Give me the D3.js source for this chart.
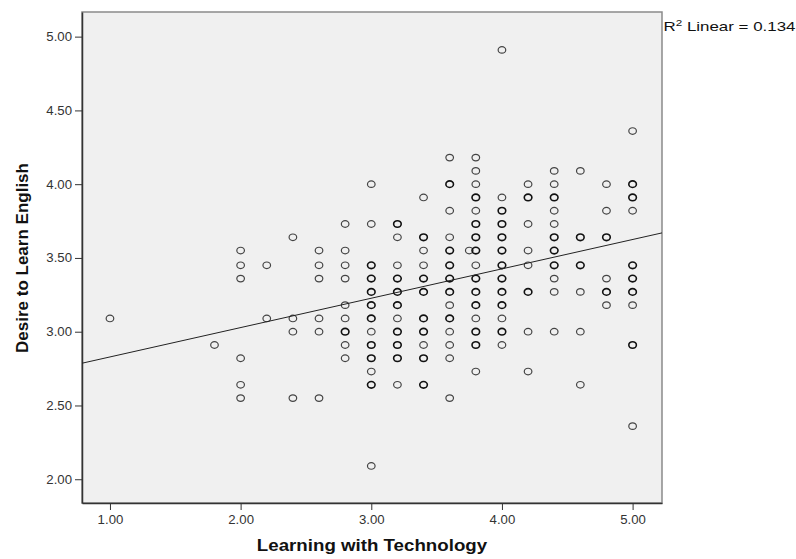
<!DOCTYPE html>
<html>
<head>
<meta charset="utf-8">
<script src="https://cdn.jsdelivr.net/npm/d3@7"></script>
<style>
  body { margin: 0; background: #fff; }
  text { font-family: Arial, "Liberation Sans", sans-serif; }
</style>
</head>
<body>
<div id="chart"></div>
<script>
// Learning with Technology levels (x) and the Desire to Learn English scores seen at each level
const techLevels = [1.0, 1.8, 2.0, 2.2, 2.4, 2.6, 2.8, 3.0, 3.2, 3.4, 3.6, 3.75, 3.8, 4.0, 4.2, 4.4, 4.6, 4.8, 5.0];
const desireScores = [
  [3.09],
  [2.91],
  [3.55, 3.45, 3.36, 2.82, 2.64, 2.55],
  [3.45, 3.09],
  [3.64, 3.09, 3.00, 2.55],
  [3.55, 3.45, 3.36, 3.09, 3.00, 2.55],
  [3.73, 3.55, 3.45, 3.36, 3.18, 3.09, 3.00, 2.91, 2.82],
  [4.00, 3.73, 3.45, 3.36, 3.27, 3.18, 3.09, 3.00, 2.91, 2.82, 2.73, 2.64, 2.09],
  [3.73, 3.64, 3.45, 3.36, 3.27, 3.18, 3.09, 3.00, 2.91, 2.82, 2.64],
  [3.91, 3.64, 3.55, 3.45, 3.36, 3.27, 3.09, 3.00, 2.91, 2.82, 2.64],
  [4.18, 4.00, 3.82, 3.64, 3.55, 3.45, 3.36, 3.27, 3.18, 3.09, 3.00, 2.91, 2.82, 2.55],
  [3.55],
  [4.18, 4.09, 4.00, 3.91, 3.82, 3.73, 3.64, 3.55, 3.45, 3.36, 3.27, 3.18, 3.09, 3.00, 2.91, 2.73],
  [4.91, 3.91, 3.82, 3.73, 3.64, 3.55, 3.45, 3.36, 3.27, 3.18, 3.09, 3.00, 2.91],
  [4.00, 3.91, 3.73, 3.55, 3.45, 3.27, 3.00, 2.73],
  [4.09, 4.00, 3.91, 3.82, 3.73, 3.64, 3.55, 3.45, 3.36, 3.27, 3.00],
  [4.09, 3.64, 3.45, 3.27, 3.00, 2.64],
  [4.00, 3.82, 3.64, 3.36, 3.27, 3.18],
  [4.36, 4.00, 3.91, 3.82, 3.45, 3.36, 3.27, 3.18, 2.91, 2.36]
];
// scores that several respondents share (drawn as darker, overlapping markers)
const sharedScores = [
  [], [], [], [], [], [],
  [3.00],
  [3.45, 3.36, 3.27, 3.18, 3.09, 2.91, 2.82, 2.64],
  [3.73, 3.36, 3.27, 3.18, 3.00, 2.91, 2.82],
  [3.64, 3.36, 3.27, 3.09, 3.00, 2.82, 2.64],
  [4.00, 3.55, 3.45, 3.36, 3.27, 3.09],
  [],
  [3.91, 3.73, 3.64, 3.55, 3.36, 3.27, 3.18, 3.00, 2.91],
  [3.82, 3.73, 3.64, 3.55, 3.45, 3.36, 3.27, 3.18, 3.00],
  [3.91, 3.27],
  [3.91, 3.64, 3.55, 3.45],
  [3.64, 3.45],
  [3.64, 3.27],
  [4.00, 3.91, 3.45, 3.36, 3.27, 2.91]
];
const xTicks = [1, 2, 3, 4, 5];
const yTicks = [2, 2.5, 3, 3.5, 4, 4.5, 5];
// fitted linear line
const fitIntercept = 2.63, fitSlope = 0.199, rSquared = 0.134;

const points = [];
techLevels.forEach((t, i) => {
  desireScores[i].forEach(d => {
    points.push({ tech: t, desire: d, shared: sharedScores[i].includes(d) });
  });
});

const width = 796, height = 559;
const margin = { top: 12, right: 134, bottom: 56, left: 82 };
const stretch = 1.1; // the original picture is a little wider than tall

const svg = d3.select('#chart')
  .append('svg')
  .attr('width', width)
  .attr('height', height);

const xScale = d3.scaleLinear()
  .domain([0.786, 5.225])
  .range([margin.left, width - margin.right]);

const yScale = d3.scaleLinear()
  .domain([1.839, 5.167])
  .range([height - margin.bottom, margin.top]);

// plot background
svg.append('rect')
  .attr('x', margin.left)
  .attr('y', margin.top)
  .attr('width', width - margin.left - margin.right)
  .attr('height', height - margin.top - margin.bottom)
  .attr('fill', '#f0f0f0')
  .attr('stroke', '#8a8a8a')
  .attr('stroke-width', 1.5);

// widen horizontal text a bit like the original
function widen(sel) {
  sel.each(function () {
    const len = this.getComputedTextLength();
    d3.select(this)
      .attr('textLength', len * stretch)
      .attr('lengthAdjust', 'spacingAndGlyphs');
  });
}

// axes
const xAxis = d3.axisBottom(xScale)
  .tickValues(xTicks)
  .tickFormat(d3.format('.2f'))
  .tickSize(7)
  .tickSizeOuter(0);

const gx = svg.append('g')
  .attr('transform', `translate(0,${height - margin.bottom})`)
  .call(xAxis);
gx.select('.domain').attr('stroke', '#333').attr('stroke-width', 1.5);
gx.selectAll('.tick line').attr('stroke', '#333');
gx.selectAll('.tick text')
  .attr('fill', '#333')
  .style('font-size', '12px')
  .attr('dy', '0.95em')
  .call(widen);

const yAxis = d3.axisLeft(yScale)
  .tickValues(yTicks)
  .tickFormat(d3.format('.2f'))
  .tickSize(7)
  .tickPadding(3)
  .tickSizeOuter(0);

const gy = svg.append('g')
  .attr('transform', `translate(${margin.left},0)`)
  .call(yAxis);
gy.select('.domain').attr('stroke', '#333').attr('stroke-width', 1.5);
gy.selectAll('.tick line').attr('stroke', '#333');
gy.selectAll('.tick text')
  .attr('fill', '#333')
  .style('font-size', '12px')
  .call(widen);

// axis titles
svg.append('text')
  .text('Learning with Technology')
  .attr('x', (margin.left + width - margin.right) / 2)
  .attr('y', 551)
  .attr('text-anchor', 'middle')
  .style('font-size', '17px')
  .style('font-weight', 'bold')
  .attr('fill', '#111')
  .call(widen);

svg.append('text')
  .text('Desire to Learn English')
  .attr('transform', 'translate(28,258) rotate(-90)')
  .attr('text-anchor', 'middle')
  .style('font-size', '17px')
  .style('font-weight', 'bold')
  .attr('fill', '#111');

// points
svg.append('g')
  .selectAll('ellipse')
  .data(points)
  .enter()
  .append('ellipse')
  .attr('cx', d => xScale(d.tech))
  .attr('cy', d => yScale(d.desire))
  .attr('rx', 3.8)
  .attr('ry', 3.3)
  .attr('fill', 'none')
  .attr('stroke', d => d.shared ? '#111' : '#444')
  .attr('stroke-width', d => d.shared ? 1.6 : 1.2);

// fit line across the plot
const xd = xScale.domain();
svg.append('line')
  .attr('x1', xScale(xd[0]))
  .attr('y1', yScale(fitIntercept + fitSlope * xd[0]))
  .attr('x2', xScale(xd[1]))
  .attr('y2', yScale(fitIntercept + fitSlope * xd[1]))
  .attr('stroke', '#222')
  .attr('stroke-width', 1);

// R squared label
const r2 = svg.append('text')
  .attr('x', width - margin.right + 1.5)
  .attr('y', 31)
  .style('font-size', '13px')
  .attr('fill', '#111')
  .attr('textLength', 132)
  .attr('lengthAdjust', 'spacingAndGlyphs');
r2.append('tspan').text('R');
r2.append('tspan').text('2').attr('dy', -5).style('font-size', '9px');
r2.append('tspan').text('  Linear = ' + rSquared.toFixed(3)).attr('dy', 5);
</script>
</body>
</html>
